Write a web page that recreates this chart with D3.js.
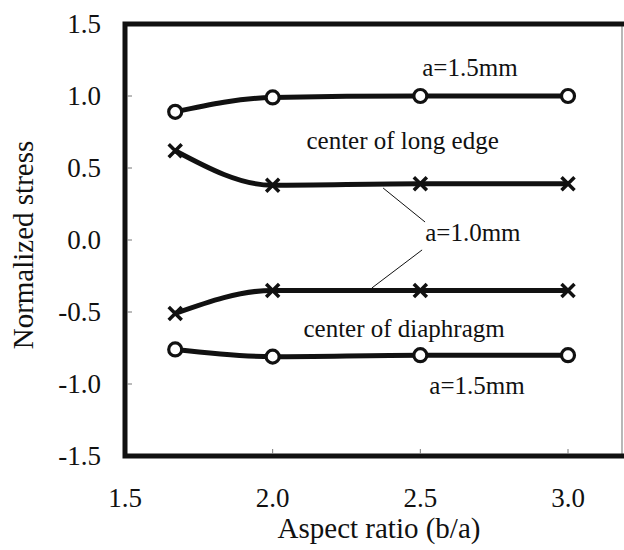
<!DOCTYPE html>
<html>
<head>
<meta charset="utf-8">
<script src="https://cdn.jsdelivr.net/npm/d3@7"></script>
</head>
<body style="margin:0">
<svg id="chart" width="624" height="550" font-family="Liberation Serif"></svg>
<script>
// aspect ratios b/a
var ratios = [1.67, 2.0, 2.5, 3.0];

// normalized stress, four curves
var edge_15 = [0.89, 0.99, 1.0, 1.0];       // a=1.5mm, center of long edge
var edge_10 = [0.62, 0.38, 0.39, 0.39];     // a=1.0mm, center of long edge
var diaph_10 = [-0.51, -0.35, -0.35, -0.35]; // a=1.0mm, center of diaphragm
var diaph_15 = [-0.76, -0.81, -0.80, -0.80]; // a=1.5mm, center of diaphragm

var x_ticks = [1.5, 2.0, 2.5, 3.0];
var y_ticks = [1.5, 1.0, 0.5, 0.0, -0.5, -1.0, -1.5];

var notes = [
  {text: "a=1.5mm", x: 2.668, y: 1.20},
  {text: "center of long edge", x: 2.44, y: 0.69},
  {text: "a=1.0mm", x: 2.678, y: 0.056},
  {text: "center of diaphragm", x: 2.445, y: -0.61},
  {text: "a=1.5mm", x: 2.692, y: -1.007}
];
var leaders = [
  [[2.374, 0.361], [2.516, 0.125]],
  [[2.506, -0.069], [2.336, -0.333]]
];

var svg = d3.select("#chart");
var plot_left = 125, plot_right = 622, plot_top = 24, plot_bottom = 456;

var x = d3.scaleLinear().domain([1.5, 3.0]).range([plot_left, 568]);
var y = d3.scaleLinear().domain([-1.5, 1.5]).range([plot_bottom, plot_top]);

function label(sel, size)
{
  return sel.attr("font-family", function() {return "Liberation Serif";})
    .style("font-family", "Liberation Serif")
    .attr("font-size", size).attr("fill", "#111");
}

// frame
svg.append("line").attr("x1", plot_right).attr("x2", plot_right)
  .attr("y1", plot_top).attr("y2", plot_bottom)
  .attr("stroke", "#888").attr("stroke-width", 1.2);
svg.append("path")
  .attr("d", "M624," + plot_top + "H" + plot_left + "V" + plot_bottom + "H624")
  .attr("fill", "none").attr("stroke", "#111").attr("stroke-width", 5);

// inner ticks
svg.selectAll(".ytick").data(y_ticks.slice(1, -1)).enter().append("line")
  .attr("x1", plot_left + 2).attr("x2", plot_left + 7)
  .attr("y1", function(d) {return y(d);}).attr("y2", function(d) {return y(d);})
  .attr("stroke", "#777").attr("stroke-width", 1);
svg.selectAll(".xtick").data(x_ticks.slice(1)).enter().append("line")
  .attr("x1", function(d) {return x(d);}).attr("x2", function(d) {return x(d);})
  .attr("y1", plot_bottom - 2).attr("y2", plot_bottom - 7)
  .attr("stroke", "#777").attr("stroke-width", 1);

// tick labels
label(svg.selectAll(".ylab").data(y_ticks).enter().append("text"), 27)
  .attr("x", 101).attr("y", function(d) {return y(d);}).attr("dy", "0.35em")
  .attr("text-anchor", "end")
  .text(function(d) {return d3.format(".1f")(d).replace("−", "-");});
label(svg.selectAll(".xlab").data(x_ticks).enter().append("text"), 27)
  .attr("x", function(d) {return x(d);}).attr("y", 498).attr("dy", "0.35em")
  .attr("text-anchor", "middle")
  .text(function(d) {return d3.format(".1f")(d);});

// axis titles
label(svg.append("text"), 29).attr("x", 379).attr("y", 528).attr("dy", "0.35em")
  .attr("text-anchor", "middle").text("Aspect ratio (b/a)");
label(svg.append("text"), 29).attr("transform", "translate(23,245) rotate(-90)").attr("dy", "0.35em")
  .attr("text-anchor", "middle").text("Normalized stress");

// curves
var line = d3.line().x(function(d) {return x(d[0]);}).y(function(d) {return y(d[1]);})
  .curve(d3.curveMonotoneX);

function draw_series(vals, marker)
{
  var pts = ratios.map(function(r, i) {return [r, vals[i]];});
  svg.append("path").datum(pts).attr("d", line)
    .attr("fill", "none").attr("stroke", "#111").attr("stroke-width", 5);
  if (marker == "circle")
  {
    svg.selectAll(null).data(pts).enter().append("circle")
      .attr("cx", function(d) {return x(d[0]);}).attr("cy", function(d) {return y(d[1]);})
      .attr("r", 6.5).attr("fill", "#fff").attr("stroke", "#111").attr("stroke-width", 3.2);
  }
  else
  {
    var s = 6.5;
    svg.selectAll(null).data(pts).enter().append("path")
      .attr("d", function(d) {
        var cx = x(d[0]), cy = y(d[1]);
        return "M" + (cx - s) + "," + (cy - s) + "L" + (cx + s) + "," + (cy + s) +
          "M" + (cx - s) + "," + (cy + s) + "L" + (cx + s) + "," + (cy - s);
      })
      .attr("stroke", "#111").attr("stroke-width", 3.5);
  }
}
draw_series(edge_15, "circle");
draw_series(edge_10, "cross");
draw_series(diaph_10, "cross");
draw_series(diaph_15, "circle");

// leader lines
svg.selectAll(".leader").data(leaders).enter().append("line")
  .attr("x1", function(d) {return x(d[0][0]);}).attr("y1", function(d) {return y(d[0][1]);})
  .attr("x2", function(d) {return x(d[1][0]);}).attr("y2", function(d) {return y(d[1][1]);})
  .attr("stroke", "#111").attr("stroke-width", 1);

// annotations
label(svg.selectAll(".note").data(notes).enter().append("text"), 25)
  .attr("x", function(d) {return x(d.x);}).attr("y", function(d) {return y(d.y);})
  .attr("dy", "0.35em").attr("text-anchor", "middle")
  .text(function(d) {return d.text;});
</script>
</body>
</html>
